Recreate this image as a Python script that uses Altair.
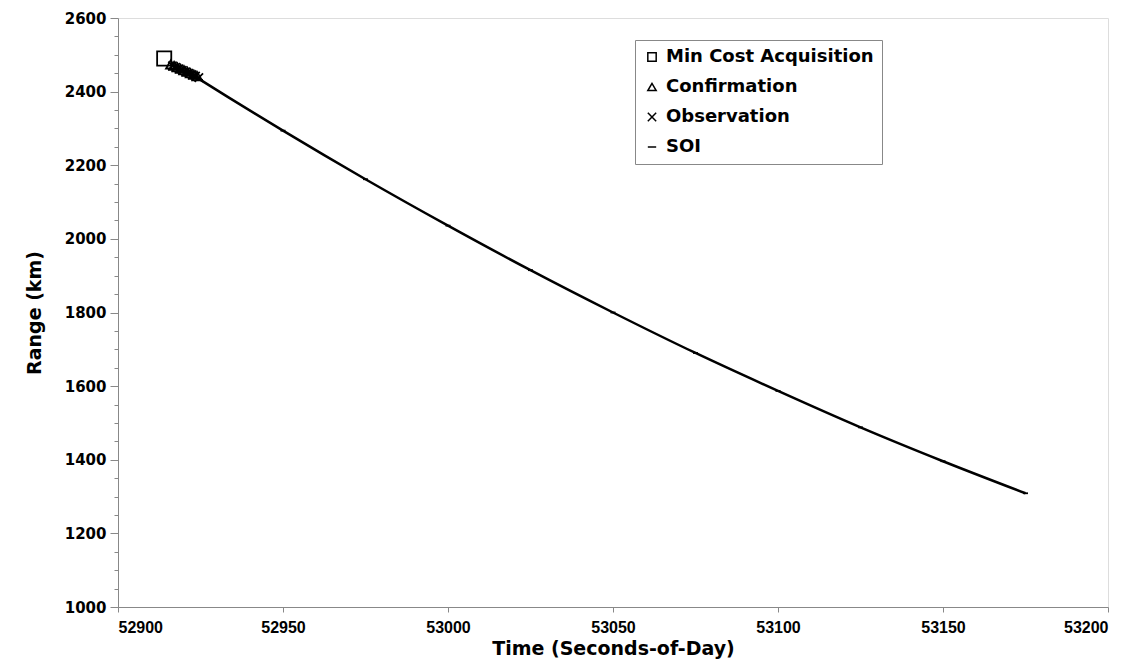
import altair as alt
import pandas as pd

series_names = ["Min Cost Acquisition", "Confirmation", "Observation", "SOI"]
series_shapes = ["square", "triangle-up", "M-1,-1L1,1M-1,1L1,-1", "M-1,0L1,0"]

acq_time = [52914]
acq_range = [2490]

conf_time = [52916, 52917, 52918, 52919, 52920, 52921, 52922, 52923, 52924]
conf_range = [2474, 2470, 2466, 2462, 2458, 2454, 2450, 2446, 2442]

obs_time = [52916.5, 52917.5, 52918.5, 52919.5, 52920.5, 52921.5, 52922.5, 52923.5, 52924.5]
obs_range = [2470, 2466, 2462, 2458, 2454, 2450, 2446, 2442, 2438]

soi_time = [52922, 52925, 52950, 52975, 53000, 53025, 53050, 53075, 53100, 53125, 53150, 53175]
soi_range = [2449, 2432, 2294, 2162, 2036, 1915, 1800, 1690, 1587, 1488, 1396, 1309]

def frame(ts, rs, name):
    return pd.DataFrame({"t": ts, "r": rs, "series": [name] * len(ts)})

acq_df = frame(acq_time, acq_range, series_names[0])
conf_df = frame(conf_time, conf_range, series_names[1])
obs_df = frame(obs_time, obs_range, series_names[2])
soi_df = frame(soi_time, soi_range, series_names[3])

x_enc = alt.X(
    "t:Q",
    scale=alt.Scale(domain=[52900, 53200], nice=False),
    axis=alt.Axis(
        title="Time (Seconds-of-Day)",
        values=list(range(52900, 53201, 50)),
        format="d",
        grid=False,
        tickSize=5,
        labelFont="Liberation Sans",
        labelFontWeight="bold",
        labelFontSize=16,
        labelPadding=7,
        titleFont="DejaVu Sans",
        titleFontWeight="bold",
        titleFontSize=19,
        titlePadding=4,
    ),
)
y_enc = alt.Y(
    "r:Q",
    scale=alt.Scale(domain=[1000, 2600], nice=False),
    axis=alt.Axis(
        title="Range (km)",
        values=list(range(1000, 2601, 50)),
        labelExpr="datum.value % 200 === 0 ? datum.value : ''",
        tickSize={"condition": {"test": "datum.value % 200 === 0", "value": 8}, "value": 4},
        grid=False,
        labelFont="DejaVu Sans",
        labelFontWeight="bold",
        labelFontSize=15,
        labelPadding=4,
        titleFont="DejaVu Sans",
        titleFontWeight="bold",
        titleFontSize=19,
        titlePadding=20,
    ),
)

shape_enc = alt.Shape(
    "series:N",
    scale=alt.Scale(domain=series_names, range=series_shapes),
    legend=alt.Legend(
        title=None,
        orient="none",
        legendX=517,
        legendY=22,
        strokeColor="#888888",
        fillColor="white",
        padding=8,
        labelFont="DejaVu Sans",
        labelFontWeight="bold",
        labelFontSize=18,
        labelColor="black",
        labelLimit=500,
        symbolSize=70,
        symbolStrokeColor="black",
        symbolStrokeWidth=1.5,
        symbolFillColor="white",
        rowPadding=12,
        labelOffset=5,
    ),
)

line = alt.Chart(soi_df).mark_line(color="black", strokeWidth=2.5, interpolate="monotone").encode(
    x=x_enc, y=y_enc
)

def pts(df, size):
    return alt.Chart(df).mark_point(filled=False, color="black", strokeWidth=1.8, opacity=1, size=size).encode(
        x=x_enc, y=y_enc, shape=shape_enc
    )

chart = (
    alt.layer(line, pts(soi_df, 25), pts(obs_df, 70), pts(conf_df, 90), pts(acq_df, 200))
    .properties(width=990, height=589, padding={"left": 17, "top": 3, "right": 5, "bottom": 2})
    .configure_view(stroke="#777777", strokeWidth=2)
    .configure_axis(domainColor="#555555", domainWidth=2, tickColor="#555555", labelColor="black", titleColor="black")
    .configure(background="white")
)

chart.save("out.html", embed_options={"renderer": "svg", "actions": False})
